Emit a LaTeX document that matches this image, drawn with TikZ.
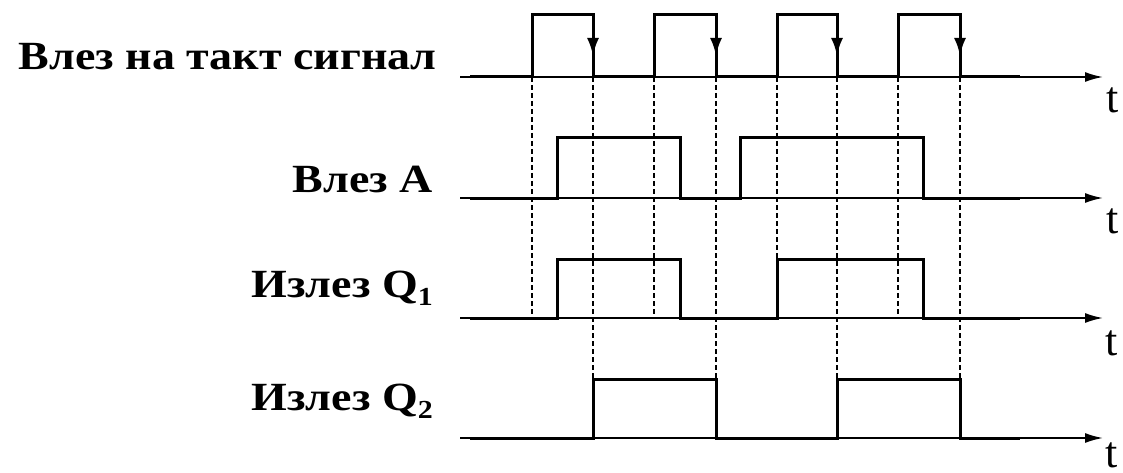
\documentclass[tikz,border=0pt]{standalone}
\usepackage{fontspec}
\usepackage{graphicx}
\setmainfont{Liberation Serif}
\usetikzlibrary{arrows.meta}
\newcommand{\wide}[1]{\scalebox{1.15}[1]{#1}}
\newcommand{\sub}[1]{\raisebox{-8pt}{\fontsize{26}{26}\selectfont #1}}
\begin{document}
\begin{tikzpicture}[x=1pt,y=-1pt,
  sig/.style={line width=3pt, line join=miter},
  axisline/.style={line width=1.8pt, -{Latex[length=18pt,width=10pt]}},
  guide/.style={line width=1.2pt, dash pattern=on 5pt off 3pt},
  edgearrow/.style={line width=3pt, -{Latex[length=18pt,width=12pt]}},
  lbl/.style={font=\bfseries\fontsize{40}{40}\selectfont, anchor=base east, inner sep=0pt},
  tlbl/.style={font=\fontsize{44}{44}\selectfont, inner sep=0pt}]
\useasboundingbox (0,0) rectangle (1123,473);

% labels
\node[lbl] (lclk) at (437,70) {\wide{Влез на такт сигнал}};
\node[lbl] (la)   at (433,192) {\wide{Влез A}};
\node[lbl] (lq1)  at (433,297) {\wide{Излез Q\sub{1}}};
\node[lbl] (lq2)  at (433,410) {\wide{Излез Q\sub{2}}};

% axes
\coordinate (a0s) at (460,77);  \coordinate (a0e) at (1103,77);
\coordinate (a1s) at (460,198); \coordinate (a1e) at (1103,198);
\coordinate (a2s) at (460,318); \coordinate (a2e) at (1103,318);
\coordinate (a3s) at (460,438); \coordinate (a3e) at (1103,438);
\draw[axisline] (a0s) -- (a0e);
\draw[axisline] (a1s) -- (a1e);
\draw[axisline] (a2s) -- (a2e);
\draw[axisline] (a3s) -- (a3e);
\node[tlbl] (t0) at (1113,100) {t};
\node[tlbl] (t1) at (1113,221) {t};
\node[tlbl] (t2) at (1112,343) {t};
\node[tlbl] (t3) at (1112,455) {t};

% guide lines
\foreach \x in {532,654,777,898} \draw[guide] (\x,77) -- (\x,318);
\foreach \x in {593,716,837,960} \draw[guide] (\x,77) -- (\x,379);

% clock
\draw[sig] (470,77) -- (532,77) -- (532,15) -- (593,15) -- (593,77) -- (654,77) -- (654,15) -- (716,15) -- (716,77) -- (777,77) -- (777,15) -- (837,15) -- (837,77) -- (898,77) -- (898,15) -- (960,15) -- (960,77) -- (1020,77);
\foreach \x in {593,716,837,960} \draw[edgearrow] (\x,30) -- (\x,56);

% input A
\draw[sig] (470,198) -- (557,198) -- (557,138) -- (680,138) -- (680,198) -- (740,198) -- (740,138) -- (923,138) -- (923,198) -- (1020,198);
% Q1
\draw[sig] (470,318) -- (557,318) -- (557,259) -- (680,259) -- (680,318) -- (777,318) -- (777,259) -- (923,259) -- (923,318) -- (1020,318);
% Q2
\draw[sig] (470,438) -- (593,438) -- (593,379) -- (716,379) -- (716,438) -- (837,438) -- (837,379) -- (960,379) -- (960,438) -- (1020,438);
\end{tikzpicture}
\end{document}
